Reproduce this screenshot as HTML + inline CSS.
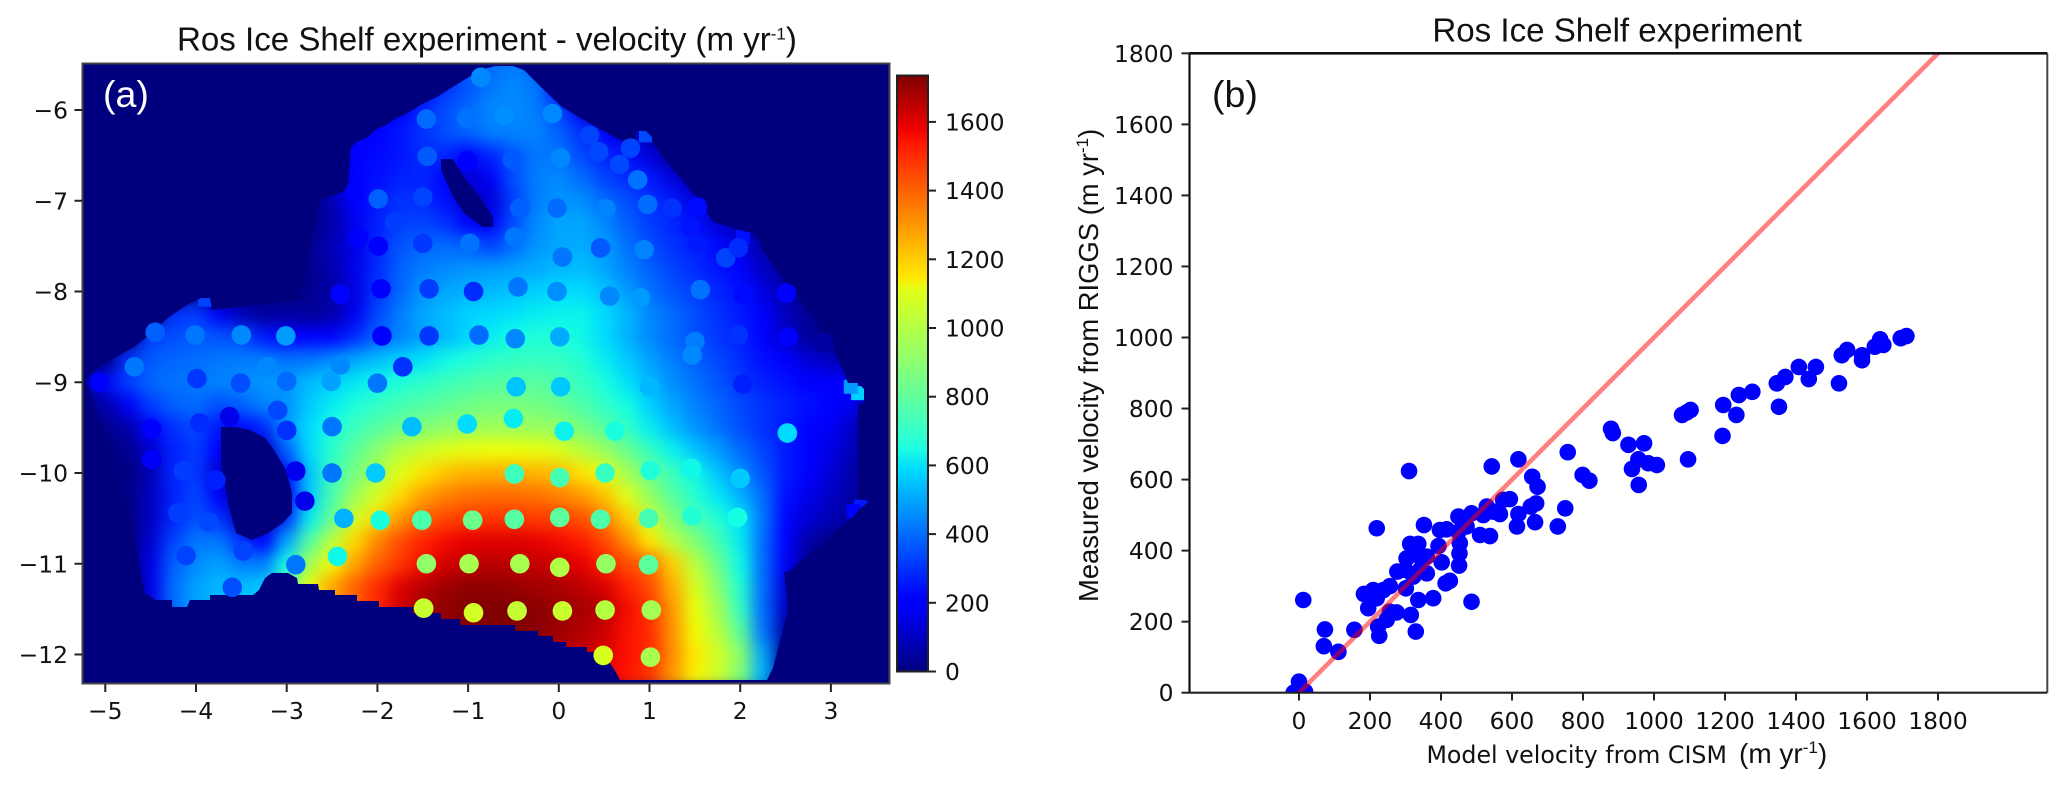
<!DOCTYPE html>
<html>
<head>
<meta charset="utf-8">
<title>Ros Ice Shelf experiment</title>
<style>
html,body{margin:0;padding:0;background:#fff;}
svg{display:block;}
.tick{font-family:"DejaVu Sans","Liberation Sans",sans-serif;font-size:23.4px;fill:#111;}
.title{font-family:"Liberation Sans",sans-serif;font-size:33.1px;fill:#111;}
.ylab{font-family:"Liberation Sans",sans-serif;font-size:27.4px;fill:#111;}
</style>
</head>
<body>
<svg id="fig" xmlns="http://www.w3.org/2000/svg" width="2067" height="786" viewBox="0 0 2067 786">
  <defs>
    <clipPath id="map-clip"><rect x="82.5" y="63.5" width="807" height="620"/></clipPath>
    <clipPath id="scatter-clip"><rect x="1189.5" y="53.3" width="858" height="639.4"/></clipPath>
    <clipPath id="shelf-clip"><polygon points="89,373 111,360 134,347 147,337 169,317 187,305 201,298 210,298 212,310 300,300 320,200 348,190 351,147 357,142 368,137 375,130 386,125 397,118 408,113 424,103 437,97 451,88 464,80 480,70 495,66 513,66 524,70 544,90 562,107 589,123 620,140 636,143 636,131 646,131 652,137 652,142 665,160 696,197 713,222 747,232 752,232 761,244 761,249 800,300 830,340 848,383 858,383 864,389 864,404 858,404 858,499 863,500 870,501 858,510 853,517 833,534 788,572 784,572 788,610 773,668 767,680 620,680 614,669 602,652 587,652 587,647 566,647 566,642 553,642 553,636 538,636 538,631 515,631 515,625 460,625 460,619 441,619 441,613 413,613 413,607 379,607 379,601 357,601 357,595 335,595 335,590 319,590 318,584 298,584 297,578 288,573 272,573 265,578 259,590 253,595 210,595 210,600 190,600 187,607 172,607 172,600 155,600 149,595 145,595 130,513 110,447 85,380"/></clipPath>
    <filter id="smooth" x="-5%" y="-5%" width="110%" height="110%" color-interpolation-filters="sRGB"><feGaussianBlur stdDeviation="8"/></filter>
    <linearGradient id="jet-gradient" x1="0" y1="1" x2="0" y2="0">
      <stop offset="0" stop-color="#00007f"/><stop offset="0.11" stop-color="#0000ff"/><stop offset="0.125" stop-color="#0000ff"/>
      <stop offset="0.34" stop-color="#00dbff"/><stop offset="0.375" stop-color="#1fffe0"/><stop offset="0.5" stop-color="#7fff7f"/>
      <stop offset="0.64" stop-color="#e0ff17"/><stop offset="0.66" stop-color="#ffea00"/><stop offset="0.89" stop-color="#ff1400"/><stop offset="0.91" stop-color="#f00000"/><stop offset="1" stop-color="#7f0000"/>
    </linearGradient>
  </defs>
  <rect x="0" y="0" width="2067" height="786" fill="#fff"/>

  <!-- Panel (a) -->
  <rect x="82.5" y="63.5" width="807" height="620" fill="#00007f"/>
  <g clip-path="url(#map-clip)">
    <g clip-path="url(#shelf-clip)">
      <g id="heat-cells" filter="url(#smooth)"></g>
      <g id="heat-spikes"></g>
    </g>
    <polygon fill="#00007f" points="441,159 453,159 464,177 480,197 493,217 493,227 482,227 464,213 453,197 441,170"/>
    <polygon fill="#00007f" points="221,427 236,427 250,430 265,438 274,450 286,470 292,493 292,513 283,523 268,533 252,540 236,533 228,503 221,463"/>
    <g id="map-dots"></g>
  </g>
  <rect x="82.5" y="63.5" width="807" height="620" fill="none" stroke="#444" stroke-width="2"/>
  <g id="map-axes"></g>
  <text class="title" x="177" y="50.5">Ros Ice Shelf experiment - velocity (m yr<tspan font-size="17" dy="-11">-1</tspan><tspan dy="11">)</tspan></text>
  <text x="103" y="107" font-family="'Liberation Sans',sans-serif" font-size="37.5" fill="#fff">(a)</text>

  <!-- Colorbar -->
  <rect x="897" y="75.5" width="31" height="596" fill="url(#jet-gradient)" stroke="#222" stroke-width="2"/>
  <g id="colorbar-ticks"></g>

  <!-- Panel (b) -->
  <g id="scatter-marks" clip-path="url(#scatter-clip)"></g>
  <line x1="2047.3" y1="53.3" x2="2047.3" y2="692.7" stroke="#444" stroke-width="2"/>
  <line x1="1189.5" y1="53.3" x2="2047.3" y2="53.3" stroke="#111" stroke-width="2.6"/>
  <line x1="1189.5" y1="53.3" x2="1189.5" y2="692.7" stroke="#111" stroke-width="2.2"/>
  <line x1="1189.5" y1="692.7" x2="2047.3" y2="692.7" stroke="#222" stroke-width="2.2"/>
  <g id="scatter-axes"></g>
  <text class="title" x="1432.4" y="41.7">Ros Ice Shelf experiment</text>
  <text x="1212" y="107" font-family="'Liberation Sans',sans-serif" font-size="37.5" fill="#111">(b)</text>
  <text x="1426.5" y="763" font-family="'DejaVu Sans',sans-serif" font-size="23.7" fill="#111">Model velocity from CISM</text>
  <text x="1739" y="763" font-family="'Liberation Sans',sans-serif" font-size="28" fill="#111">(m yr<tspan font-size="17" dy="-10">-1</tspan><tspan dy="10">)</tspan></text>
  <text class="ylab" transform="translate(1098,602) rotate(-90)" x="0" y="0">Measured velocity from RIGGS (m yr<tspan font-size="17" dy="-10">-1</tspan><tspan dy="10">)</tspan></text>
</svg>

<script>
// ---- Panel (a) data ----
const mapXTicks = [-5,-4,-3,-2,-1,0,1,2,3];
const mapYTicks = [-6,-7,-8,-9,-10,-11,-12];
const colorbarTicks = [0,200,400,600,800,1000,1200,1400,1600];
const colorMax = [1735];
const gridX = [-5.25,-5,-4.75,-4.5,-4.25,-4,-3.75,-3.5,-3.25,-3,-2.75,-2.5,-2.25,-2,-1.75,-1.5,-1.25,-1,-0.75,-0.5,-0.25,0,0.25,0.5,0.75,1,1.25,1.5,1.75,2,2.25,2.5,2.75,3,3.25,3.5];
const gridY = [-5.5,-5.75,-6,-6.25,-6.5,-6.75,-7,-7.25,-7.5,-7.75,-8,-8.25,-8.5,-8.75,-9,-9.25,-9.5,-9.75,-10,-10.25,-10.5,-10.75,-11,-11.25,-11.5,-11.75,-12,-12.25];
const velocityGrid = [
[0,0,0,0,0,0,0,0,0,0,0,0,0,0,0,0,300,360,400,430,380,200,50,0,0,0,0,0,0,0,0,0,0,0,0,0],
[0,0,0,0,0,0,0,0,0,0,0,0,0,0,200,220,300,360,420,450,420,220,50,10,0,0,0,0,0,0,0,0,0,0,0,0],
[0,0,0,0,0,0,0,0,0,0,0,0,0,200,220,280,350,400,450,450,430,340,160,50,10,0,0,0,0,0,0,0,0,0,0,0],
[0,0,0,0,0,0,0,0,0,0,0,0,200,220,250,300,350,390,430,440,440,380,300,220,110,50,0,0,0,0,0,0,0,0,0,0],
[0,0,0,0,0,0,0,0,0,0,0,150,200,230,250,290,280,220,280,360,420,420,340,280,240,140,50,0,0,0,0,0,0,0,0,0],
[0,0,0,0,0,0,0,0,0,0,0,120,190,240,270,280,200,120,180,350,430,450,400,330,290,260,140,70,10,0,0,0,0,0,0,0],
[0,0,0,0,0,0,0,0,0,0,0,80,200,260,300,290,240,120,130,320,430,470,460,400,350,300,260,140,80,20,0,0,0,0,0,0],
[0,0,0,0,0,0,0,0,0,0,0,60,170,270,320,330,300,220,180,350,450,500,500,450,380,320,280,240,130,70,10,0,0,0,0,0],
[0,0,0,0,0,0,0,0,0,0,30,80,160,280,360,390,400,380,330,400,470,500,510,480,410,350,300,270,230,150,70,10,0,0,0,0],
[0,0,0,0,0,0,0,0,0,0,20,70,160,290,380,430,450,470,480,490,510,530,540,500,440,380,330,290,250,220,100,30,0,0,0,0],
[0,0,0,0,0,0,0,10,10,10,20,60,150,300,390,470,500,520,530,550,570,590,590,550,480,410,360,320,280,240,150,70,10,0,0,0],
[0,0,0,0,300,320,180,90,40,50,40,60,170,340,430,500,540,570,590,600,620,630,630,590,530,450,400,350,300,260,200,90,30,0,0,0],
[0,0,0,320,350,370,360,340,260,200,190,210,290,380,440,490,530,580,620,650,670,670,640,590,520,450,400,350,310,270,210,110,40,0,0,0],
[0,0,300,370,390,400,420,430,430,410,420,450,500,540,570,600,640,670,700,710,720,710,680,620,560,490,430,380,340,290,240,190,130,90,50,0],
[0,230,320,390,410,420,440,450,470,480,530,570,610,640,670,700,730,760,780,790,790,770,720,660,600,530,460,410,360,310,270,240,210,190,200,0],
[0,60,180,320,380,400,350,380,440,460,560,620,670,710,750,780,810,840,860,860,850,820,770,710,650,570,500,440,390,340,300,270,240,210,170,0],
[0,20,60,190,300,340,250,230,280,480,590,660,730,790,840,880,910,930,940,940,930,920,860,790,710,620,540,470,410,350,300,260,220,180,100,0],
[0,0,20,120,270,320,200,60,100,380,590,700,800,900,990,1040,1080,1100,1110,1110,1100,1070,1000,930,830,720,630,550,480,400,330,260,210,150,80,0],
[0,0,0,80,280,310,120,40,40,250,550,720,860,970,1080,1160,1220,1250,1260,1260,1250,1230,1160,1090,950,830,730,640,550,460,360,260,190,130,60,0],
[0,0,10,100,270,340,200,40,40,200,560,760,940,1060,1180,1280,1340,1370,1380,1380,1370,1340,1300,1220,1080,920,790,690,610,520,400,240,160,100,50,0],
[0,0,0,100,280,350,300,100,60,300,620,820,1050,1180,1300,1400,1450,1470,1480,1480,1470,1460,1430,1340,1200,1030,880,760,680,600,420,220,130,80,40,0],
[0,0,0,120,330,420,420,300,200,500,780,1000,1180,1330,1440,1510,1560,1580,1590,1590,1580,1560,1530,1450,1320,1150,1000,880,750,620,400,200,60,10,0,0],
[0,0,0,150,380,450,490,430,430,650,950,1120,1280,1400,1480,1560,1610,1640,1650,1640,1630,1620,1580,1520,1440,1380,1200,1000,830,640,400,180,30,0,0,0],
[0,0,0,150,400,490,530,540,560,800,1100,1280,1400,1500,1590,1650,1690,1710,1710,1700,1680,1670,1640,1600,1520,1440,1260,1060,900,680,400,140,0,0,0,0],
[0,0,0,150,400,500,530,540,560,800,1100,1280,1400,1520,1620,1680,1710,1730,1735,1735,1720,1700,1680,1650,1560,1480,1300,1100,950,720,400,100,0,0,0,0],
[0,0,0,0,0,0,0,0,0,0,0,0,0,1400,1620,1680,1710,1730,1735,1735,1720,1690,1660,1620,1550,1500,1310,1120,1000,800,420,60,0,0,0,0],
[0,0,0,0,0,0,0,0,0,0,0,0,0,1400,1620,1680,1710,1730,1735,1735,1700,1660,1630,1590,1550,1500,1320,1150,1050,900,500,30,0,0,0,0],
[0,0,0,0,0,0,0,0,0,0,0,0,0,1400,1620,1680,1710,1730,1735,1735,1700,1660,1620,1580,1540,1480,1300,1130,1040,880,520,20,0,0,0,0]
];
const edgeCellX = [3.3,3.22,3.33,3.25,0.96,2.03,-3.9];
const edgeCellY = [-9.12,-9.05,-10.37,-10.42,-6.28,-7.4,-8.09];
const edgeCellV = [570,480,260,210,340,240,330];
const dotX = [-0.86,-1.46,-1.02,-0.6,-0.07,0.34,0.44,0.79,0.67,-1.45,-1.01,-0.51,0.02,0.87,-2.25,-1.99,-1.5,-0.43,-0.02,0.52,0.98,1.25,1.53,-1.81,1.45,-2.21,-1.99,-1.5,-0.98,-0.49,0.04,0.46,0.94,1.53,1.84,1.98,-2.41,-1.96,-1.43,-0.94,-0.45,-0.02,0.56,0.9,1.56,-4.45,-4.01,-3.5,-3.01,-1.95,-1.43,-0.88,-0.48,0.01,1.5,1.98,-4.68,-3.21,-2.41,-1.72,1.47,-5.07,-3.99,-3.51,-3,-2.51,-2,-0.47,0.02,1,2.51,2.03,2.53,2.92,2.03,2.52,2,1.97,-3.1,-3.63,-3.96,-4.49,-3,-2.5,-1.62,-1.01,-0.5,0.06,0.62,-4.49,-4.14,-3.78,-2.9,-2.5,-2.02,-0.49,0.01,0.51,1.01,1.46,-4.2,-3.86,-2.8,-2.37,-1.97,-1.51,-0.95,-0.49,0.01,0.46,0.99,1.47,-4.11,-3.48,-2.9,-2.44,-1.46,-0.99,-0.43,0.01,0.52,0.99,-3.6,-1.49,-0.94,-0.46,0.04,0.51,1.02,0.49,1.01];
const dotY = [-5.64,-6.1,-6.09,-6.06,-6.04,-6.28,-6.46,-6.42,-6.6,-6.51,-6.56,-6.55,-6.53,-6.77,-6.9,-6.98,-6.96,-7.08,-7.08,-7.09,-7.04,-7.08,-7.07,-7.24,-7.29,-7.41,-7.5,-7.47,-7.47,-7.4,-7.62,-7.52,-7.54,-7.48,-7.63,-7.52,-8.03,-7.97,-7.97,-8,-7.95,-8,-8.05,-8.07,-7.98,-8.45,-8.48,-8.48,-8.49,-8.49,-8.49,-8.48,-8.52,-8.5,-8.55,-8.48,-8.83,-8.83,-8.81,-8.83,-8.7,-9,-8.96,-9.01,-8.99,-8.99,-9.01,-9.05,-9.05,-9.05,-8.02,-8.03,-8.5,-8.56,-9.02,-9.56,-10.06,-10.49,-9.31,-9.38,-9.45,-9.51,-9.53,-9.49,-9.49,-9.46,-9.4,-9.54,-9.54,-9.85,-9.98,-10.08,-9.98,-10,-10,-10.01,-10.05,-10,-9.97,-9.95,-10.44,-10.54,-10.31,-10.5,-10.52,-10.52,-10.52,-10.51,-10.49,-10.51,-10.5,-10.47,-10.91,-10.86,-11.01,-10.92,-11,-11,-11,-11.04,-11,-11.01,-11.26,-11.49,-11.54,-11.52,-11.52,-11.51,-11.51,-12.01,-12.03];
const dotV = [450,400,410,460,450,330,340,330,340,370,190,370,450,410,220,380,330,380,400,440,400,300,230,320,250,210,200,310,410,420,420,370,440,260,330,290,220,200,320,290,420,460,450,480,410,380,420,450,480,210,310,400,450,510,430,300,420,450,450,300,450,210,310,350,400,490,420,550,560,530,200,230,190,50,270,590,560,650,340,160,290,190,300,420,540,590,620,630,660,180,320,270,170,420,560,730,750,720,670,640,320,340,160,520,660,760,830,790,800,770,750,680,330,330,420,640,910,960,960,980,920,800,350,1030,1050,1020,1030,990,950,1060,960];

// ---- Panel (b) data ----
const scatterXTicks = [0,200,400,600,800,1000,1200,1400,1600,1800];
const scatterYTicks = [0,200,400,600,800,1000,1200,1400,1600,1800];
const modelVelocity = [0,0,17,-15,12,73,70,111,156,219,310,183,209,195,219,238,256,223,226,247,256,275,315,329,336,378,301,277,299,322,360,341,402,303,313,336,331,360,393,413,425,486,451,452,453,352,397,416,449,472,449,486,510,538,529,519,547,566,575,594,543,618,657,672,668,653,618,614,665,729,750,757,799,818,879,884,928,972,956,938,957,984,1008,1079,1092,1103,1096,1195,1193,1232,1239,1277,1352,1346,1370,1408,1436,1456,1521,1529,1544,1586,1586,1622,1637,1646,1695,1711];
const measuredVelocity = [31,0,3,0,261,178,131,115,177,463,624,278,289,238,266,289,300,186,160,205,228,226,219,172,261,266,294,341,346,327,336,346,367,378,419,419,388,383,413,308,315,256,358,392,421,472,458,460,453,468,496,505,444,441,524,500,510,503,543,545,637,657,608,580,533,524,503,468,480,468,519,677,613,597,743,731,698,702,657,630,585,646,641,782,789,796,657,810,723,782,838,847,805,871,889,917,883,917,871,950,965,950,936,974,995,979,998,1004];
const identityLine = [0,1800];

// ---- Axis functions ----
const mapX = v => 558.8 + 90.7 * v;
const mapY = v => 110 - (v + 6) * 90.75;
const cbarY = v => 671.5 - v * 0.3435;
const scatX = v => 1299 + 0.355 * v;
const scatY = v => 692.7 - 0.3552 * v;

function jet(v){
  const t = Math.max(0, Math.min(1, v / colorMax[0]));
  const ramp = (pts) => { for (let i = 1; i < pts.length; i++) { if (t <= pts[i][0]) { const a = pts[i-1], b = pts[i]; return a[1] + (b[1]-a[1]) * (t-a[0]) / (b[0]-a[0]); } } return pts[pts.length-1][1]; };
  const r = ramp([[0,0],[0.35,0],[0.66,1],[0.89,1],[1,0.5]]);
  const g = ramp([[0,0],[0.125,0],[0.375,1],[0.64,1],[0.91,0],[1,0]]);
  const b = ramp([[0,0.5],[0.11,1],[0.34,1],[0.65,0],[1,0]]);
  return 'rgb(' + Math.round(r*255) + ',' + Math.round(g*255) + ',' + Math.round(b*255) + ')';
}
const NS = 'http://www.w3.org/2000/svg';
function make(tag, parent, props, content){
  const el = document.createElementNS(NS, tag);
  for (const k in props) el.setAttribute(k, props[k]);
  if (content !== undefined) el.textContent = content;
  parent.appendChild(el);
  return el;
}
const fmt = v => String(v).replace('-', '\u2212');

// Heatmap cells
const heatG = document.getElementById('heat-cells');
velocityGrid.forEach((row, i) => {
  row.forEach((val, j) => {
    const x0 = mapX(gridX[j] - 0.125), x1 = mapX(gridX[j] + 0.125);
    const y0 = mapY(gridY[i] + 0.125), y1 = mapY(gridY[i] - 0.125);
    const cell = make('rect', heatG, {x: x0, y: y0, width: x1 - x0 + 0.6, height: y1 - y0 + 0.6, fill: jet(val)});
    
    
  });
});
const spikeG = document.getElementById('heat-spikes');
edgeCellX.forEach((x, i) => {
  const cell = make('rect', spikeG, {x: mapX(x) - 7, y: mapY(edgeCellY[i]) - 7, width: 14, height: 14, fill: jet(edgeCellV[i])});
  
  
});

// Map dots
const dotG = document.getElementById('map-dots');
dotX.forEach((x, i) => {
  const dot = make('circle', dotG, {cx: mapX(x), cy: mapY(dotY[i]), r: 9.8, fill: jet(dotV[i])});
  
  
});

// Map axes
const mapAxes = document.getElementById('map-axes');
mapXTicks.forEach(v => {
  const t = make('line', mapAxes, {x1: mapX(v), x2: mapX(v), y1: 684, y2: 692, stroke: '#222', 'stroke-width': 2});
  
  
  const l = make('text', mapAxes, {x: mapX(v), y: 719, 'text-anchor': 'middle', class: 'tick'}, fmt(v));
  
  
});
mapYTicks.forEach(v => {
  const t = make('line', mapAxes, {x1: 74.5, x2: 82.5, y1: mapY(v), y2: mapY(v), stroke: '#222', 'stroke-width': 2});
  
  
  const l = make('text', mapAxes, {x: 68, y: mapY(v) + 8.5, 'text-anchor': 'end', class: 'tick'}, fmt(v));
  
  
});

// Colorbar ticks
const cbarG = document.getElementById('colorbar-ticks');
colorbarTicks.forEach(v => {
  const t = make('line', cbarG, {x1: 928, x2: 936, y1: cbarY(v), y2: cbarY(v), stroke: '#222', 'stroke-width': 2});
  
  
  const l = make('text', cbarG, {x: 945, y: cbarY(v) + 8.5, class: 'tick'}, String(v));
  
  
});

// Scatter marks
const marks = document.getElementById('scatter-marks');
modelVelocity.forEach((x, i) => {
  const p = make('circle', marks, {cx: scatX(x), cy: scatY(measuredVelocity[i]), r: 8.3, fill: '#0000ff'});
  
  
});
const oneToOne = make('line', marks, {x1: scatX(identityLine[0]), y1: scatY(identityLine[0]), x2: scatX(identityLine[1]), y2: scatY(identityLine[1]), stroke: '#ff0000', 'stroke-opacity': 0.5, 'stroke-width': 4.6});



// Scatter axes
const scatAxes = document.getElementById('scatter-axes');
scatterXTicks.forEach(v => {
  const t = make('line', scatAxes, {x1: scatX(v), x2: scatX(v), y1: 692.7, y2: 700.5, stroke: '#222', 'stroke-width': 2});
  
  
  const l = make('text', scatAxes, {x: scatX(v), y: 729, 'text-anchor': 'middle', class: 'tick'}, String(v));
  
  
});
scatterYTicks.forEach(v => {
  const t = make('line', scatAxes, {x1: 1181.5, x2: 1189.5, y1: scatY(v), y2: scatY(v), stroke: '#222', 'stroke-width': 2});
  
  
  const l = make('text', scatAxes, {x: 1173.5, y: scatY(v) + 8.5, 'text-anchor': 'end', class: 'tick'}, String(v));
  
  
});
</script>
</body>
</html>
